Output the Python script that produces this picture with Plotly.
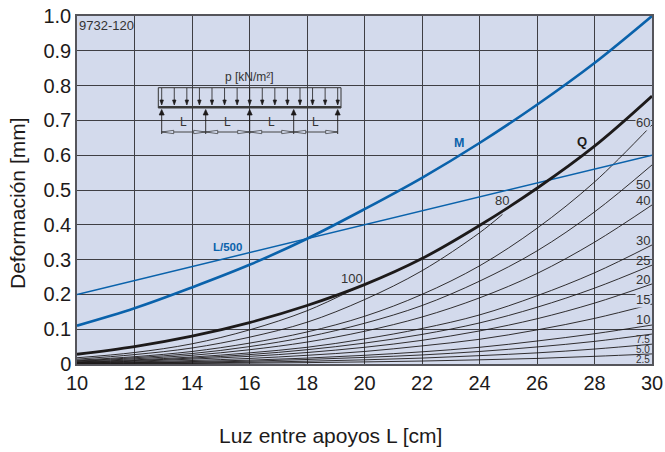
import plotly.graph_objects as go

# ---- data -------------------------------------------------------------
spans = [10, 12, 14, 16, 18, 20, 22, 24, 26, 28, 30]
q_curve = [0.028, 0.050, 0.080, 0.119, 0.168, 0.228, 0.303, 0.398, 0.505, 0.626, 0.770]
m_curve = [0.110, 0.160, 0.220, 0.285, 0.360, 0.445, 0.535, 0.635, 0.745, 0.865, 1.000]
limit_spans = [10, 30]
limit_l500 = [0.200, 0.600]

p100_x = [10, 12, 14, 16, 18, 19.7]
p100 = [0.018, 0.033, 0.058, 0.098, 0.153, 0.218]
p80_x = [10, 12, 14, 16, 18, 20, 22, 24, 24.8]
p80 = [0.014, 0.027, 0.046, 0.077, 0.120, 0.185, 0.268, 0.377, 0.430]
p60 = [0.011, 0.021, 0.036, 0.060, 0.092, 0.137, 0.200, 0.282, 0.390, 0.523, 0.687]
p50 = [0.009, 0.018, 0.030, 0.050, 0.078, 0.117, 0.168, 0.238, 0.325, 0.437, 0.572]
p40 = [0.008, 0.015, 0.025, 0.041, 0.063, 0.094, 0.135, 0.190, 0.260, 0.350, 0.457]
p30 = [0.006, 0.012, 0.020, 0.032, 0.048, 0.072, 0.102, 0.141, 0.196, 0.262, 0.342]
p25 = [0.005, 0.010, 0.017, 0.027, 0.041, 0.060, 0.085, 0.118, 0.163, 0.218, 0.284]
p20 = [0.004, 0.008, 0.014, 0.022, 0.033, 0.048, 0.068, 0.095, 0.130, 0.175, 0.230]
p15 = [0.003, 0.006, 0.010, 0.016, 0.025, 0.036, 0.052, 0.071, 0.098, 0.131, 0.172]
p10 = [0.002, 0.004, 0.007, 0.011, 0.017, 0.025, 0.035, 0.048, 0.066, 0.087, 0.112]
p7_5 = [0.0015, 0.003, 0.005, 0.008, 0.013, 0.019, 0.026, 0.036, 0.049, 0.065, 0.086]
p5 = [0.001, 0.002, 0.003, 0.005, 0.008, 0.012, 0.017, 0.024, 0.032, 0.043, 0.057]
p2_5 = [0.0005, 0.001, 0.0015, 0.0025, 0.004, 0.006, 0.0085, 0.012, 0.016, 0.022, 0.029]

x_ticks = [10, 12, 14, 16, 18, 20, 22, 24, 26, 28, 30]
y_ticks = [0, 0.1, 0.2, 0.3, 0.4, 0.5, 0.6, 0.7, 0.8, 0.9, 1.0]
y_tick_text = ["0", "0.1", "0.2", "0.3", "0.4", "0.5", "0.6", "0.7", "0.8", "0.9", "1.0"]

BG = "#d3daec"
BLUE = "#0a62ab"
INK = "#1d1a1a"
GRID = "#3f3f44"
W, H = 665, 452
L, R, T, B = 77, 652, 16, 364


def px(v):
    return (v - L) / (R - L)


def py(v):
    return (B - v) / (B - T)


def dx(v):
    return 10 + (v - L) / (R - L) * 20


def dy(v):
    return (B - v) / (B - T)


fig = go.Figure()
thin = dict(color=INK, width=0.9)
for xs, ys in [(p100_x, p100), (p80_x, p80), (spans, p60), (spans, p50), (spans, p40),
               (spans, p30), (spans, p25), (spans, p20), (spans, p15), (spans, p10),
               (spans, p7_5), (spans, p5), (spans, p2_5)]:
    fig.add_trace(go.Scatter(x=xs, y=ys, mode="lines", line=dict(shape="spline", **thin),
                             showlegend=False, hoverinfo="skip"))
fig.add_trace(go.Scatter(x=limit_spans, y=limit_l500, mode="lines",
                         line=dict(color=BLUE, width=1.5), showlegend=False))
fig.add_trace(go.Scatter(x=spans, y=m_curve, mode="lines",
                         line=dict(color=BLUE, width=2.6, shape="spline"), showlegend=False))
fig.add_trace(go.Scatter(x=spans, y=q_curve, mode="lines",
                         line=dict(color=INK, width=2.8, shape="spline"), showlegend=False))

shapes = []
# panel that interrupts the grid behind the load diagram
shapes.append(dict(type="rect", xref="x", yref="y", x0=dx(152), x1=dx(348), y0=dy(146), y1=dy(61),
                   fillcolor=BG, line_width=0, layer="below"))


def line(x0, y0, x1, y1, color=INK, width=0.9):
    shapes.append(dict(type="line", xref="paper", yref="paper", x0=px(x0), y0=py(y0), x1=px(x1), y1=py(y1),
                       line=dict(color=color, width=width)))


def tri(pts, fill=INK, stroke=None):
    path = "M " + " L ".join(f"{px(a):.5f} {py(b):.5f}" for a, b in pts) + " Z"
    shapes.append(dict(type="path", xref="paper", yref="paper", path=path, fillcolor=fill,
                       line=dict(color=stroke or fill, width=0.7)))


# load diagram (pixel geometry, not data)
ax0, ax1 = 161.7, 337.7
line(158.3, 87.7, 341, 87.7, "#333333", 1)
line(158.3, 87.7, 158.3, 108, "#333333", 1)
line(341, 87.7, 341, 108, "#333333", 1)
line(158.3, 107.3, 341, 107.3, "#3a3a3a", 2.6)
for i in range(15):
    xa = ax0 + i * (ax1 - ax0) / 14
    line(xa, 88, xa, 101, INK, 0.8)
    tri([(xa - 1.7, 100), (xa + 1.7, 100), (xa, 105)])
for i in range(5):
    xa = ax0 + i * (ax1 - ax0) / 4
    line(xa, 113, xa, 134, INK, 0.9)
    tri([(xa - 2.5, 115), (xa + 2.5, 115), (xa, 109.5)])
line(ax0, 132, ax1, 132, "#444444", 1)
for i in range(4):
    a = ax0 + i * (ax1 - ax0) / 4
    b = ax0 + (i + 1) * (ax1 - ax0) / 4
    tri([(a, 132), (a + 12, 130.3), (a + 12, 133.7)], fill=BG, stroke="#333333")
    tri([(b, 132), (b - 12, 130.3), (b - 12, 133.7)], fill=BG, stroke="#333333")

ann = []


def label(text, x, y, size=13, color="#333333", bold=False, family="Liberation Sans", bg=None, angle=0):
    a = dict(text=f"<b>{text}</b>" if bold else text, xref="paper", yref="paper", x=px(x), y=py(y),
             showarrow=False, xanchor="center", yanchor="middle", textangle=angle,
             font=dict(size=size, color=color, family=family), borderpad=0)
    if bg:
        a["bgcolor"] = bg
    ann.append(a)


label("60", 642.5, 122, bg=BG)
label("50", 643, 184)
label("40", 643, 201)
label("30", 643, 240)
label("25", 643, 260)
label("20", 643, 279)
label("15", 643, 299, bg=BG)
label("10", 643, 319)
label("7.5", 642.5, 339, size=10)
label("5.0", 642.5, 349, size=10)
label("2.5", 642.5, 359, size=10)
label("80", 502, 201)
label("100", 352, 278)
label("M", 458.5, 142.5, color=BLUE, bold=True, size=12.5)
label("L/500", 227, 247, color=BLUE, bold=True, size=11.5)
label("Q", 582, 141.5, color=INK, bold=True, size=13)
label("p [kN/m²]", 250, 77, size=12)
label("L", 183.5, 122, size=12)
label("L", 227.5, 122, size=12)
label("L", 271.5, 122, size=12)
label("L", 315.5, 122, size=12)
label("9732-120", 106, 25, size=13)
label("Luz entre apoyos L [cm]", 330.5, 435, size=21, color=INK)
label("Deformación [mm]", 17, 203, size=21, color=INK, angle=-90)

axis_common = dict(showgrid=True, gridcolor=GRID, gridwidth=1, zeroline=False, showline=True,
                   linecolor="#55555b", linewidth=1.5, mirror=True, ticks="", automargin=False,
                   tickfont=dict(size=20, color=INK, family="Liberation Sans"))
fig.update_layout(
    width=W, height=H, autosize=False,
    margin=dict(l=L, r=W - R, t=T, b=H - B, pad=0),
    plot_bgcolor=BG, paper_bgcolor="white", showlegend=False,
    font=dict(family="Liberation Sans", color=INK),
    shapes=shapes, annotations=ann,
    xaxis=dict(range=[10, 30], tickmode="array", tickvals=x_ticks, ticktext=[str(t) for t in x_ticks],
               **axis_common),
    yaxis=dict(range=[0, 1], tickmode="array", tickvals=y_ticks, ticktext=y_tick_text,
               **axis_common),
)
fig.write_html("out.html", config={"displayModeBar": False},
               post_script="document.body.style.margin='0';document.documentElement.style.overflow='hidden';")
